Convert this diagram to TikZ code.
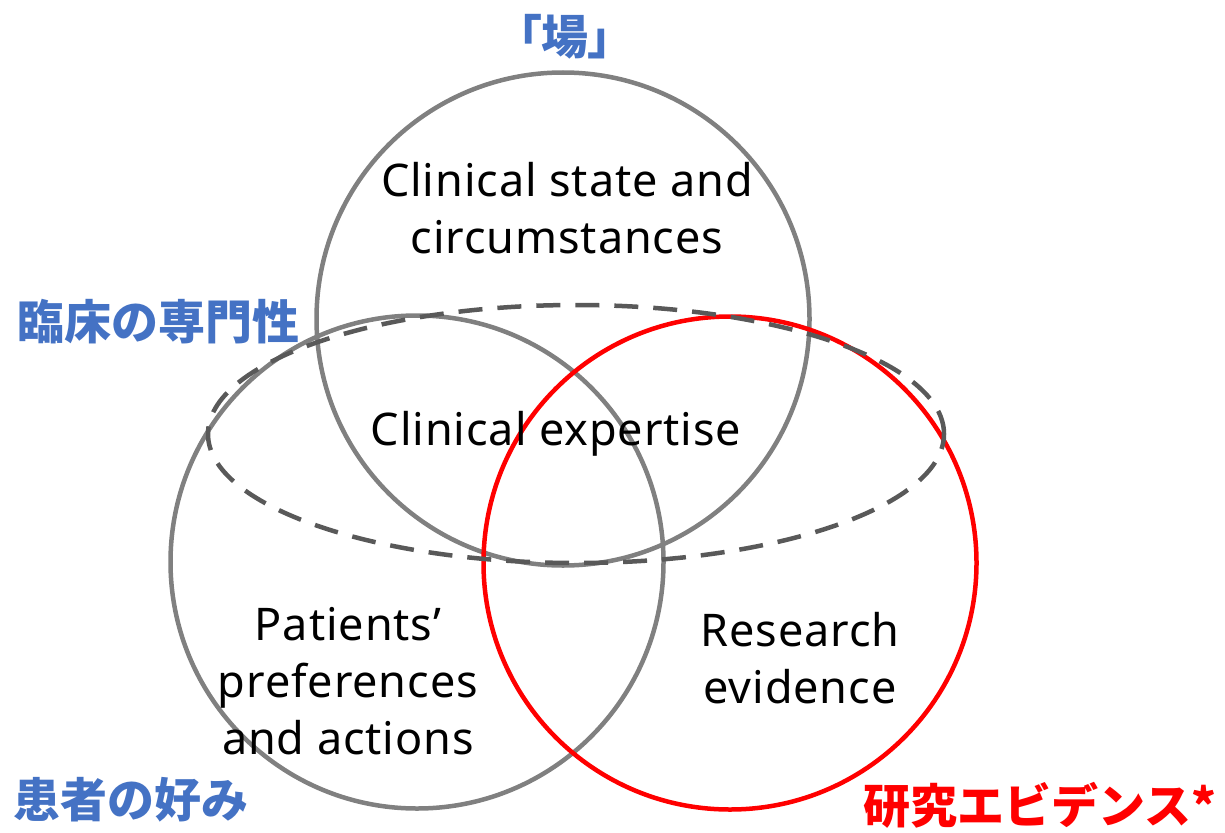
\documentclass[tikz,border=0pt]{standalone}
\usepackage{fontspec}
\setmainfont{Noto Sans CJK JP}
\newfontfamily\jppalt{Noto Sans CJK JP}[RawFeature=+palt]
\newfontfamily\latinbody{Noto Sans}[LetterSpace=2]
\usepackage{xcolor}
\usepackage{tikz}
\usetikzlibrary{shapes.geometric, positioning}
\definecolor{ringgray}{HTML}{808080}
\definecolor{dashgray}{HTML}{595959}
\definecolor{labelblue}{HTML}{4472C4}
\definecolor{labelred}{HTML}{FF0000}
\tikzset{
    x = 1pt, y = -1pt,                                      % Work in reference pixels
    ring/.style={circle, draw=ringgray, line width=4.5pt,
        minimum size=493pt, inner sep=0pt},                 % The three big circles
    evidence/.style={ring, draw=labelred},                  % Red circle for research evidence
    expertise/.style={ellipse, draw=dashgray, line width=4.5pt,
        dash pattern=on 24pt off 15pt,
        minimum width=736pt, minimum height=258pt, inner sep=0pt},
    body/.style={font=\latinbody\fontsize{45}{57}\selectfont, align=center, text=black},
    tag/.style={font=\fontsize{47}{50}\selectfont\bfseries, inner sep=0pt}
}
\begin{document}
\begin{tikzpicture}
    \useasboundingbox (0,0) rectangle (1225,832);

    \node [ring] (patients) at (417,562) {};
    \node [ring] (scene) at (563,319) {};
    \node [evidence] (research) at (730,563) {};
    \node [expertise] (skill) at (576,434) {};

    \node [body] (t-scene) at (567,208) {Clinical state and\\circumstances};
    \node [body] (t-skill) at (556,434) {Clinical expertise};
    \node [body] (t-patients) at (348,681) {Patients’\\preferences\\and actions};
    \node [body] (t-research) at (800,658) {Research\\evidence};

    \node [tag, text=labelblue, font=\fontsize{47}{50}\selectfont\bfseries\jppalt] (j-scene) at (565,37) {「場」};
    \node [tag, text=labelblue] (j-skill) at (158,322) {臨床の専門性};
    \node [tag, text=labelblue] (j-patients) at (131,800) {患者の好み};
    \node [tag, text=labelred] (j-research) at (1040,805) {研究エビデンス*};
\end{tikzpicture}
\end{document}
